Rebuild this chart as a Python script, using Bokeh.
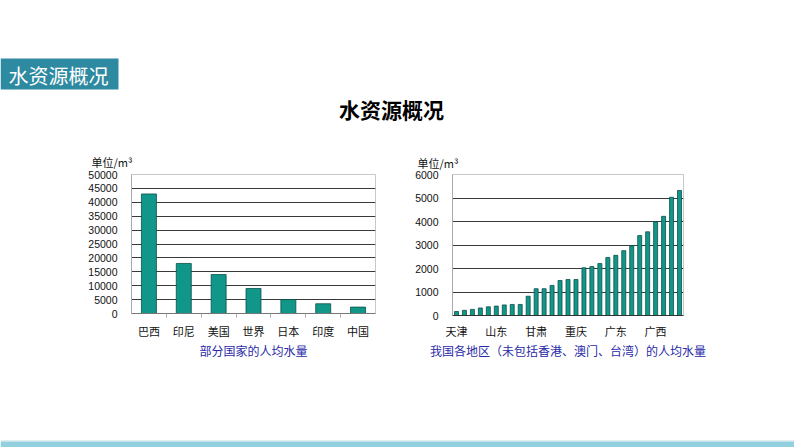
from bokeh.plotting import figure
from bokeh.layouts import column, row
from bokeh.models import Range1d, FixedTicker, Title
from bokeh.core.properties import value
from bokeh.embed import file_html
from bokeh.resources import INLINE

# ---------------- data ----------------
countries = ["巴西", "印尼", "美国", "世界", "日本", "印度", "中国"]
country_values = [43000, 18000, 14000, 9000, 5000, 3500, 2300]
country_ticks = list(range(0, 50001, 5000))

region_values = [170, 220, 260, 320, 370, 400, 450, 470, 470, 820,
                 1140, 1140, 1280, 1490, 1530, 1530, 2030, 2080, 2210, 2470,
                 2560, 2760, 2970, 3400, 3560, 3990, 4220, 5030, 5320]
region_label_index = [0, 5, 10, 15, 20, 25]
region_labels = ["天津", "山东", "甘肃", "重庆", "广东", "广西"]
region_ticks = list(range(0, 6001, 1000))

page_title = "水资源概况"
unit_text = "单位/m³"
left_caption = "部分国家的人均水量"
right_caption = "我国各地区（未包括香港、澳门、台湾）的人均水量"

# ---------------- styles ----------------
CJK = "Noto Sans CJK SC"
NUM = "Liberation Sans"
BAR = "#11978A"
BAR_LINE = "#0A4F48"
CAPTION = "#2A2AA8"
BANNER = "#2E8AA1"


def blank_fig(w, h):
    f = figure(width=w, height=h, x_range=Range1d(0, w), y_range=Range1d(0, h),
               min_border=0, output_backend="svg", toolbar_location=None,
               x_axis_location=None, y_axis_location=None)
    f.grid.visible = False
    f.outline_line_color = None
    return f


# ---------------- header ----------------
W = 794
HH = 145
header = blank_fig(W, HH)
header.quad(left=0, right=118, top=HH - 58, bottom=HH - 89, fill_color=BANNER, line_color=None)
header.text(x=[58], y=[HH - 75], text=[page_title], text_color="white",
            text_font=value(CJK), text_font_size="20px",
            text_align="center", text_baseline="middle")
header.text(x=[391], y=[HH - 108], text=[page_title], text_color="black",
            text_font=value(CJK), text_font_size="21px", text_font_style="bold",
            text_align="center", text_baseline="middle")


def style_chart(p, offset, standoff, label_standoff):
    p.add_layout(Title(text=unit_text, align="left", offset=offset, standoff=standoff,
                       text_font=CJK, text_font_size="11px",
                       text_font_style="normal", text_color="#111"), "above")
    p.xgrid.visible = False
    p.ygrid.grid_line_color = "#3a3a3a"
    p.outline_line_color = "#c8c8c8"
    p.yaxis.major_tick_line_color = None
    p.yaxis.minor_tick_line_color = None
    p.yaxis.axis_line_color = "#aaaaaa"
    p.yaxis.major_label_text_font = NUM
    p.yaxis.major_label_text_font_size = "10.5px"
    p.yaxis.major_label_text_color = "#111"
    p.yaxis.major_label_standoff = 8
    p.xaxis.major_tick_line_color = None
    p.xaxis.major_label_text_font = CJK
    p.xaxis.major_label_text_font_size = "11px"
    p.xaxis.major_label_text_color = "#111"
    p.xaxis.major_label_standoff = label_standoff
    p.xaxis.axis_label_text_font = CJK
    p.xaxis.axis_label_text_font_size = "12px"
    p.xaxis.axis_label_text_font_style = "normal"
    p.xaxis.axis_label_text_color = CAPTION
    p.xaxis.axis_label_standoff = 0


# ---------------- left chart ----------------
n_c = len(countries)
left = figure(width=400, height=224, x_range=Range1d(0, n_c), y_range=Range1d(0, 50000),
              min_border_left=131, min_border_right=25, min_border_top=29,
              min_border_bottom=56, output_backend="svg", toolbar_location=None)
cx = [i + 0.5 for i in range(n_c)]
left.vbar(x=cx, top=country_values, width=0.43, fill_color=BAR, line_color=BAR_LINE, line_width=0.8)
style_chart(left, -40, 10, 3)
left.yaxis.ticker = FixedTicker(ticks=country_ticks)
left.ygrid.ticker = FixedTicker(ticks=country_ticks)
left.xaxis.ticker = FixedTicker(ticks=cx, minor_ticks=list(range(1, n_c)))
left.xaxis.major_label_overrides = {c: n for c, n in zip(cx, countries)}
left.xaxis.minor_tick_line_color = "#aaaaaa"
left.xaxis.minor_tick_in = 0
left.xaxis.minor_tick_out = 4
left.xaxis.axis_line_color = "#777777"
left.xaxis.axis_label = left_caption

# ---------------- right chart ----------------
n_r = len(region_values)
right = figure(width=394, height=226, x_range=Range1d(0, n_r), y_range=Range1d(0, 6000),
               min_border_left=52, min_border_right=111, min_border_top=27,
               min_border_bottom=54, output_backend="svg", toolbar_location=None)
rx = [i + 0.5 for i in range(n_r)]
right.vbar(x=rx, top=region_values, width=0.5, fill_color=BAR, line_color=BAR_LINE, line_width=0.8)
style_chart(right, -35, 8, 1)
right.yaxis.ticker = FixedTicker(ticks=region_ticks)
right.ygrid.ticker = FixedTicker(ticks=region_ticks)
rt = [rx[i] for i in region_label_index]
right.xaxis.ticker = FixedTicker(ticks=rt)
right.xaxis.major_label_overrides = {t: n for t, n in zip(rt, region_labels)}
right.xaxis.minor_tick_line_color = None
right.xaxis.axis_line_color = "#333333"
right.xaxis.axis_label = right_caption

# ---------------- footer ----------------
footer = blank_fig(W, 76)
footer.quad(left=0, right=W, top=6, bottom=0, fill_color="#92D0DF", line_color=None)
footer.quad(left=0, right=W, top=7, bottom=6, fill_color="#C2DEE5", line_color=None)

layout = column(header, row(left, right), footer)
open("out.html", "w").write(file_html(layout, INLINE))
